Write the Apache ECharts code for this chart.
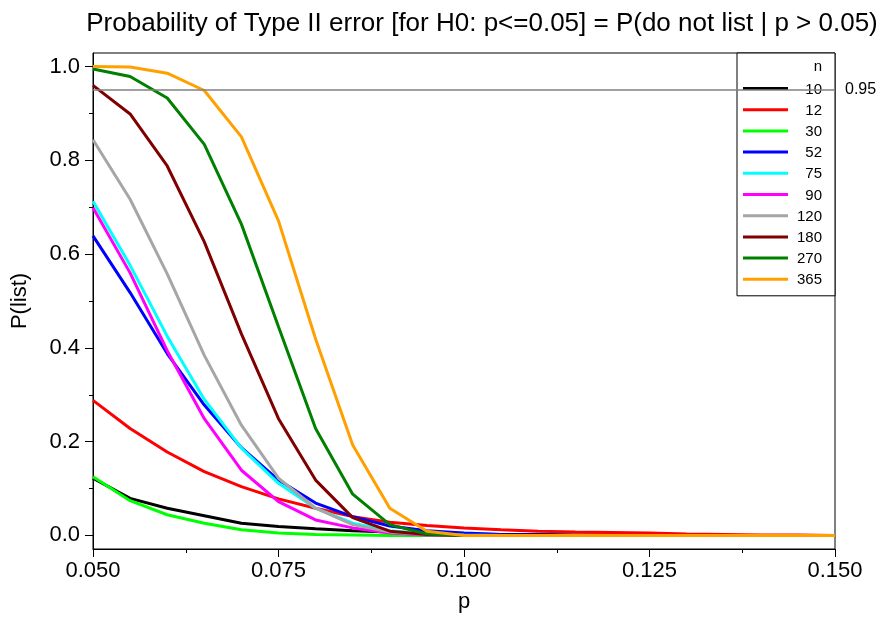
<!DOCTYPE html>
<html>
<head>
<meta charset="utf-8">
<script src="https://cdn.jsdelivr.net/npm/echarts@6/dist/echarts.min.js"></script>
<style>html,body{margin:0;padding:0;background:#fff}#c{width:882px;height:618px}</style>
</head>
<body>
<div id="c"></div>
<script>
var pValues = [0.050,0.055,0.060,0.065,0.070,0.075,0.080,0.085,0.090,0.095,0.100,0.105,0.110,0.115,0.120,0.125,0.130,0.135,0.140,0.145,0.150];
var seriesNames = ['10','12','30','52','75','90','120','180','270','365'];
var n10  = [0.122,0.079,0.058,0.042,0.026,0.019,0.014,0.010,0.007,0.005,0.003,0.002,0.002,0.001,0.001,0.001,0,0,0,0,0];
var n12  = [0.288,0.228,0.178,0.136,0.104,0.078,0.058,0.040,0.028,0.021,0.016,0.012,0.009,0.007,0.006,0.005,0.003,0.002,0.001,0.001,0];
var n30  = [0.125,0.074,0.044,0.026,0.012,0.005,0.002,0.001,0,0,0,0,0,0,0,0,0,0,0,0,0];
var n52  = [0.639,0.518,0.388,0.278,0.187,0.118,0.069,0.040,0.020,0.010,0.005,0.002,0.001,0,0,0,0,0,0,0,0];
var n75  = [0.713,0.576,0.425,0.290,0.186,0.111,0.058,0.026,0.010,0.003,0.001,0,0,0,0,0,0,0,0,0,0];
var n90  = [0.699,0.560,0.394,0.249,0.139,0.072,0.033,0.016,0.005,0.001,0,0,0,0,0,0,0,0,0,0,0];
var n120 = [0.844,0.717,0.558,0.384,0.235,0.122,0.058,0.023,0.007,0.002,0,0,0,0,0,0,0,0,0,0,0];
var n180 = [0.960,0.899,0.788,0.626,0.430,0.249,0.118,0.038,0.009,0.002,0,0,0,0,0,0,0,0,0,0,0];
var n270 = [0.995,0.979,0.933,0.834,0.664,0.445,0.228,0.088,0.023,0.003,0,0,0,0,0,0,0,0,0,0,0];
var n365 = [1.000,0.999,0.986,0.949,0.850,0.671,0.419,0.193,0.058,0.009,0,0,0,0,0,0,0,0,0,0,0];
var seriesValues = [n10,n12,n30,n52,n75,n90,n120,n180,n270,n365];
var colors = ['#000000','#ff0000','#00ff00','#0000ff','#00ffff','#ff00ff','#a6a6a6','#800000','#008000','#ffa000'];
var xMajorTicks = [0.050,0.075,0.100,0.125,0.150];
var xMinorTicks = [0.0625,0.0875,0.1125,0.1375];
var yMajorTicks = [0,0.2,0.4,0.6,0.8,1.0];
var yMinorTicks = [0.1,0.3,0.5,0.7,0.9];
var refValue = 0.95;

var FONT = 'Liberation Sans, Arial, sans-serif';
var chart = echarts.init(document.getElementById('c'));

var series = seriesNames.map(function(name, i){
  var s = {
    name: name,
    type: 'line',
    xAxisIndex: 0, yAxisIndex: 0,
    data: pValues.map(function(p, j){ return [p, seriesValues[i][j]]; }),
    symbol: 'none',
    showSymbol: false,
    lineStyle: {color: colors[i], width: 3},
    itemStyle: {color: colors[i]},
    animation: false,
    z: 2 + i * 0.01
  };
  if (i === 0) {
    s.markLine = {
      silent: true,
      symbol: ['none','none'],
      lineStyle: {color: '#808080', width: 1.5, type: 'solid'},
      label: {show: true, position: 'end', distance: 10, formatter: '0.95', color: '#000', fontSize: 16, fontFamily: FONT},
      data: [{yAxis: refValue}],
      animation: false
    };
  }
  return s;
});

var option = {
  animation: false,
  backgroundColor: '#fff',
  title: {
    text: 'Probability of Type II error [for H0: p<=0.05] = P(do not list | p > 0.05)',
    left: 477, top: 6, textAlign: 'center',
    textStyle: {fontFamily: FONT, fontSize: 26, fontWeight: 'normal', color: '#000'}
  },
  grid: {left: 93, right: 47, top: 53, bottom: 67, show: true, borderColor: '#000', borderWidth: 1, backgroundColor: 'transparent'},
  legend: {
    orient: 'vertical',
    left: 737, top: 53,
    padding: [27, 13, 8, 6],
    itemWidth: 45, itemHeight: 3, itemGap: 4.2,
    icon: 'rect',
    backgroundColor: '#fff',
    borderColor: '#000', borderWidth: 1,
    data: seriesNames,
    formatter: function(n){ return '{a|' + n + '}'; },
    textStyle: {
      fontFamily: FONT, fontSize: 15, color: '#000',
      rich: {a: {width: 29, align: 'right', fontSize: 15, lineHeight: 16, padding: [2, 0, 0, 0], fontFamily: FONT, color: '#000'}}
    }
  },
  graphic: [{
    type: 'text', right: 60, top: 59, z: 100,
    style: {text: 'n', fontFamily: FONT, fontSize: 15, fill: '#000'}
  }],
  xAxis: [{
    type: 'value', min: 0.05, max: 0.15,
    name: 'p', nameLocation: 'middle', nameGap: 42,
    nameTextStyle: {fontFamily: FONT, fontSize: 22, color: '#000'},
    axisLine: {show: true, onZero: false, lineStyle: {color: '#000', width: 1}},
    axisTick: {show: true, inside: false, length: 8, customValues: xMajorTicks, lineStyle: {color: '#000'}},
    axisLabel: {show: true, margin: 11, customValues: xMajorTicks, fontFamily: FONT, fontSize: 22, color: '#000',
      formatter: function(v){ return v.toFixed(3); }},
    splitLine: {show: false}
  }, {
    type: 'value', min: 0.05, max: 0.15, position: 'bottom',
    axisLine: {show: false, onZero: false},
    axisTick: {show: true, inside: false, length: 4, customValues: xMinorTicks, lineStyle: {color: '#000'}},
    axisLabel: {show: false},
    splitLine: {show: false}
  }],
  yAxis: [{
    type: 'value', min: -0.029, max: 1.029,
    name: 'P(list)', nameLocation: 'middle', nameGap: 62, nameRotate: 90,
    nameTextStyle: {fontFamily: FONT, fontSize: 22, color: '#000'},
    axisLine: {show: true, onZero: false, lineStyle: {color: '#000', width: 1}},
    axisTick: {show: true, inside: false, length: 8, customValues: yMajorTicks, lineStyle: {color: '#000'}},
    axisLabel: {show: true, margin: 13, customValues: yMajorTicks, fontFamily: FONT, fontSize: 22, color: '#000',
      formatter: function(v){ return v.toFixed(1); }},
    splitLine: {show: false}
  }, {
    type: 'value', min: -0.029, max: 1.029, position: 'left',
    axisLine: {show: false, onZero: false},
    axisTick: {show: true, inside: false, length: 4, customValues: yMinorTicks, lineStyle: {color: '#000'}},
    axisLabel: {show: false},
    splitLine: {show: false}
  }],
  series: series
};
chart.setOption(option);
</script>
</body>
</html>
